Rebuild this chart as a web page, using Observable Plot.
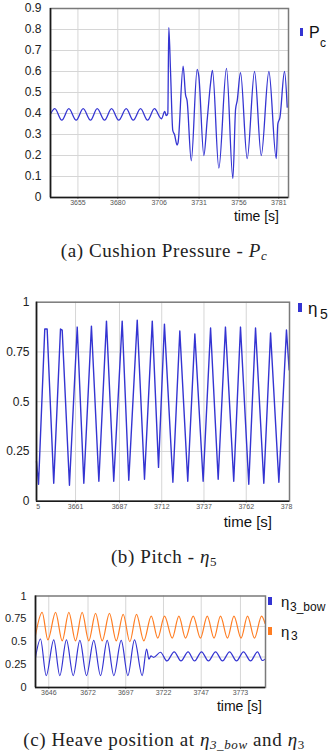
<!DOCTYPE html>
<html><head><meta charset="utf-8">
<script src="https://cdn.jsdelivr.net/npm/d3@7"></script>
<script src="https://cdn.jsdelivr.net/npm/@observablehq/plot@0.6"></script>
<style>
body{margin:0;background:#fff;}
#root{position:relative;width:328px;height:754px;overflow:hidden;font-family:"Liberation Sans",Arial,sans-serif;color:#111;}
.cap{position:absolute;left:0;width:328px;text-align:center;font-family:"Liberation Serif",serif;font-size:19px;line-height:19px;color:#222;letter-spacing:0.6px;white-space:nowrap;}
.sb{font-size:13px;position:relative;top:3px;}
</style></head><body><div id="root"></div>
<script>
// ---------- (a) Cushion pressure P_c ----------
const pcTime = [3637.8, 3640.5, 3644.9, 3649.3, 3653.9, 3658.3, 3662.9, 3667.1, 3671.7, 3676.1, 3680.6, 3685.3, 3689.7, 3694.3, 3698.7, 3703.0, 3707.4, 3709.5, 3710.4, 3711.4, 3712.0, 3713.1, 3714.5, 3715.6, 3717.2, 3717.8, 3721.0, 3722.5, 3723.5, 3726.1, 3729.8, 3730.8, 3734.0, 3736.1, 3738.3, 3739.4, 3743.4, 3748.2, 3752.2, 3753.9, 3754.9, 3757.0, 3761.2, 3765.8, 3770.0, 3774.8, 3779.4, 3780.4, 3781.7, 3784.6, 3786.3];
const pcValue = [0.397, 0.423, 0.368, 0.423, 0.368, 0.423, 0.368, 0.423, 0.368, 0.423, 0.368, 0.423, 0.368, 0.423, 0.368, 0.423, 0.375, 0.41, 0.39, 0.40, 0.81, 0.60, 0.32, 0.30, 0.25, 0.26, 0.625, 0.49, 0.46, 0.175, 0.61, 0.58, 0.20, 0.37, 0.55, 0.605, 0.14, 0.615, 0.09, 0.42, 0.46, 0.595, 0.185, 0.60, 0.20, 0.60, 0.185, 0.35, 0.38, 0.60, 0.43];
const pcXDomain = [3637.8, 3787.1];
const pcXTicks = [3655, 3680, 3706, 3731, 3756, 3781];
const pcYTicks = [0, 0.1, 0.2, 0.3, 0.4, 0.5, 0.6, 0.7, 0.8, 0.9];

// ---------- (b) Pitch eta_5 ----------
const pitchTime = [3637.9, 3639.1, 3642.8, 3644.2, 3648.1, 3652.1, 3653.1, 3657.4, 3662.0, 3665.9, 3670.4, 3674.8, 3679.3, 3683.6, 3688.6, 3692.5, 3697.5, 3701.8, 3706.4, 3710.1, 3713.6, 3718.6, 3722.7, 3727.4, 3731.6, 3736.5, 3740.9, 3745.4, 3749.7, 3754.6, 3758.6, 3763.5, 3767.5, 3772.4, 3776.4, 3781.3, 3785.8, 3787.4];
const pitchValue = [0.20, 0.085, 0.865, 0.865, 0.09, 0.865, 0.86, 0.08, 0.875, 0.09, 0.88, 0.10, 0.905, 0.10, 0.905, 0.105, 0.91, 0.11, 0.905, 0.17, 0.89, 0.095, 0.855, 0.10, 0.84, 0.10, 0.87, 0.11, 0.875, 0.10, 0.875, 0.085, 0.87, 0.09, 0.845, 0.095, 0.86, 0.66];
const pitchXDomain = [3637.9, 3787.6];
const pitchXTicks = [3661, 3687, 3712, 3737, 3762];
const pitchEdgeTicks = [3635, 3787];
const pitchEdgeLabels = ["5", "378"];
const pitchYTicks = [0, 0.25, 0.5, 0.75, 1];

// ---------- (c) Heave eta_3_bow and eta_3 ----------
const bowTime = [3637.2, 3640.5, 3644.3, 3649.3, 3653.3, 3657.7, 3662.2, 3666.6, 3671.0, 3675.8, 3680.3, 3684.7, 3689.1, 3694.0, 3698.4, 3702.8, 3707.9, 3710.8, 3712.4, 3713.7, 3715.4, 3720.0, 3724.3, 3729.1, 3733.6, 3738.3, 3742.6, 3747.2, 3751.8, 3756.5, 3761.1, 3765.8, 3770.4, 3775.0, 3779.7, 3784.3, 3787.6, 3789.3];
const bowValue = [0.33, 0.53, 0.13, 0.52, 0.13, 0.52, 0.13, 0.515, 0.13, 0.515, 0.13, 0.515, 0.13, 0.515, 0.13, 0.52, 0.13, 0.42, 0.31, 0.345, 0.33, 0.385, 0.29, 0.39, 0.29, 0.39, 0.29, 0.39, 0.29, 0.39, 0.29, 0.39, 0.29, 0.39, 0.29, 0.39, 0.295, 0.31];
const heaveTime = [3637.2, 3641.6, 3645.4, 3650.5, 3654.9, 3659.3, 3663.7, 3668.1, 3672.5, 3677.0, 3681.4, 3686.2, 3690.7, 3695.3, 3699.7, 3704.1, 3709.0, 3713.9, 3718.2, 3722.7, 3727.8, 3732.2, 3736.6, 3741.7, 3746.5, 3751.0, 3755.5, 3759.8, 3764.4, 3768.7, 3773.4, 3777.7, 3782.3, 3787.0, 3789.3];
const heaveValue = [0.57, 0.82, 0.52, 0.82, 0.51, 0.82, 0.51, 0.82, 0.51, 0.81, 0.51, 0.81, 0.51, 0.80, 0.50, 0.80, 0.51, 0.78, 0.54, 0.78, 0.54, 0.78, 0.54, 0.78, 0.54, 0.78, 0.54, 0.78, 0.54, 0.78, 0.54, 0.78, 0.54, 0.78, 0.70];
const heaveXDomain = [3637.2, 3789.6];
const heaveXTicks = [3646, 3672, 3697, 3722, 3747, 3773];
const heaveYTicks = [0, 0.25, 0.5, 0.75, 1];
const heaveYGrid = [0.333, 0.667];

const seriesNames = ["η3_bow", "η3"];
const BLUE = "#3434d2", ORANGE = "#ff7d22";
const FONT = "'Liberation Sans', Arial, sans-serif";
const GRID = "#d6d6d6";

const pcRows = pcTime.map((t, i) => ({t, v: pcValue[i]}));
const pitchRows = pitchTime.map((t, i) => ({t, v: pitchValue[i]}));
const bowRows = bowTime.map((t, i) => ({t, v: bowValue[i], s: seriesNames[0]}));
const heaveRows = heaveTime.map((t, i) => ({t, v: heaveValue[i], s: seriesNames[1]}));

const root = document.getElementById("root");
function put(el, top) { el.style.position = "absolute"; el.style.left = "0px"; el.style.top = top + "px"; root.appendChild(el); }
function div(html, css, cls) { const d = document.createElement("div"); d.innerHTML = html; if (cls) d.className = cls; d.style.cssText = "position:absolute;white-space:nowrap;" + css; root.appendChild(d); return d; }
const fmt = d => String(d);

function frameMarks(xDomain) {
  return [
    Plot.frame({stroke: "#7a7a7a", strokeWidth: 1.5}),
    Plot.ruleX([xDomain[0]], {stroke: "#1a1a1a", strokeWidth: 1.6}),
    Plot.ruleY([0], {stroke: "#1a1a1a", strokeWidth: 1.6})
  ];
}

// chart (a)
const c1 = Plot.plot({
  width: 328, height: 210,
  marginLeft: 50, marginRight: 40, marginTop: 8, marginBottom: 13,
  x: {domain: pcXDomain},
  y: {domain: [0, 0.9]},
  style: {fontFamily: FONT, background: "transparent"},
  marks: [
    Plot.gridY(pcYTicks.slice(1), {stroke: GRID, strokeOpacity: 1}),
    Plot.gridX(pcXTicks, {stroke: GRID, strokeOpacity: 1}),
    Plot.axisY(pcYTicks, {tickSize: 0, tickPadding: 9, fontSize: 12, label: null, tickFormat: fmt, fill: "#222"}),
    Plot.axisX(pcXTicks, {tickSize: 2, tickPadding: 1, fontSize: 7, label: null, tickFormat: fmt, fill: "#555", stroke: "#888"}),
    Plot.line(pcRows, {x: "t", y: "v", stroke: BLUE, strokeWidth: 1.3, curve: "monotone-x"}),
    ...frameMarks(pcXDomain)
  ]
});
put(c1, 0);

// chart (b)
const c2 = Plot.plot({
  width: 328, height: 225,
  marginLeft: 36, marginRight: 39, marginTop: 11.7, marginBottom: 14.3,
  x: {domain: pitchXDomain},
  y: {domain: [0, 1]},
  style: {fontFamily: FONT, background: "transparent"},
  marks: [
    Plot.gridY(pitchYTicks.slice(1, -1), {stroke: GRID, strokeOpacity: 1}),
    Plot.gridX(pitchXTicks, {stroke: GRID, strokeOpacity: 1}),
    Plot.axisY(pitchYTicks, {tickSize: 0, tickPadding: 7, fontSize: 12, label: null, tickFormat: fmt, fill: "#222"}),
    Plot.axisX(pitchXTicks, {tickSize: 2, tickPadding: 1, fontSize: 7, label: null, tickFormat: fmt, fill: "#555", stroke: "#888"}),
    Plot.text(pitchEdgeTicks.slice(0, 1), {x: d => d, text: () => pitchEdgeLabels[0], frameAnchor: "bottom", lineAnchor: "top", dy: 3, dx: 6.5, fontSize: 7, fill: "#555"}),
    Plot.text(pitchEdgeTicks.slice(1), {x: d => d, text: () => pitchEdgeLabels[1], frameAnchor: "bottom", lineAnchor: "top", dy: 3, dx: -2, fontSize: 7, fill: "#555"}),
    Plot.line(pitchRows, {x: "t", y: "v", stroke: BLUE, strokeWidth: 1.4, curve: "linear"}),
    ...frameMarks(pitchXDomain)
  ]
});
put(c2, 290);

// chart (c)
const c3 = Plot.plot({
  width: 328, height: 112,
  marginLeft: 35, marginRight: 63, marginTop: 10.5, marginBottom: 10,
  x: {domain: heaveXDomain},
  y: {domain: [0, 1]},
  color: {domain: seriesNames, range: [BLUE, ORANGE]},
  style: {fontFamily: FONT, background: "transparent"},
  marks: [
    Plot.gridY(heaveYGrid, {stroke: GRID, strokeOpacity: 1}),
    Plot.gridX(heaveXTicks, {stroke: GRID, strokeOpacity: 1}),
    Plot.axisY(heaveYTicks, {tickSize: 0, tickPadding: 9, fontSize: 11, label: null, tickFormat: fmt, fill: "#222"}),
    Plot.axisX(heaveXTicks, {tickSize: 2, tickPadding: 0.5, fontSize: 7, label: null, tickFormat: fmt, fill: "#555", stroke: "#888"}),
    Plot.line(heaveRows, {x: "t", y: "v", stroke: "s", strokeWidth: 1.2, curve: "monotone-x"}),
    Plot.line(bowRows, {x: "t", y: "v", stroke: "s", strokeWidth: 1.2, curve: "monotone-x"}),
    ...frameMarks(heaveXDomain)
  ]
});
put(c3, 585);

// axis titles
div("time [s]", "right:49px;top:209px;font-size:14px;line-height:14px;");
div("time [s]", "right:56px;top:514px;font-size:15px;line-height:15px;");
div("time [s]", "right:66px;top:699px;font-size:14px;line-height:14px;");

// legends
div("", `left:300px;top:28px;width:3px;height:8px;background:${BLUE};`);
div("P", "left:309px;top:25px;font-size:16px;line-height:16px;");
div("c", "left:320px;top:36.5px;font-size:12px;line-height:12px;");

div("", `left:298px;top:303px;width:3.5px;height:8.5px;background:${BLUE};`);
div("η", "left:308px;top:300px;font-size:17px;line-height:17px;");
div("5", "left:320px;top:307px;font-size:14px;line-height:14px;");

div("", `left:268px;top:597px;width:3.5px;height:8px;background:${BLUE};`);
div("η", "left:281px;top:594px;font-size:15px;line-height:15px;");
div("3_bow", "left:290px;top:601px;font-size:12px;line-height:12px;");
div("", `left:268px;top:627px;width:3.5px;height:8px;background:${ORANGE};`);
div("η", "left:281px;top:624px;font-size:15px;line-height:15px;");
div("3", "left:291px;top:630px;font-size:12px;line-height:12px;");

// captions
div("(a) Cushion Pressure - <i>P</i><span class='sb'><i>c</i></span>", "top:240.5px;", "cap");
div("(b) Pitch - <i>η</i><span class='sb'>5</span>", "top:547px;", "cap");
div("(c) Heave position at <i>η</i><span class='sb'><i>3_bow</i></span> and <i>η</i><span class='sb'>3</span>", "top:730px;", "cap");
</script>
</body></html>
